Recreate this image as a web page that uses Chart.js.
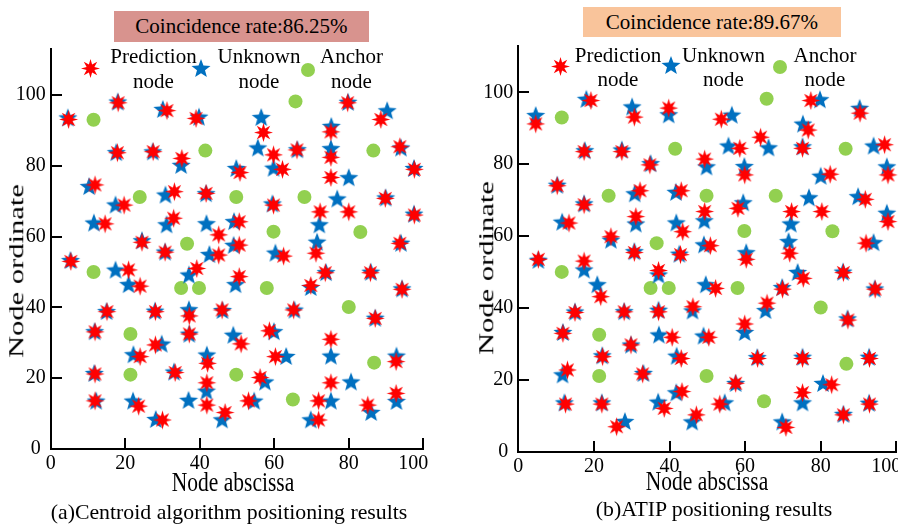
<!DOCTYPE html>
<html><head><meta charset="utf-8">
<script src="https://cdn.jsdelivr.net/npm/chart.js@4.4.0/dist/chart.umd.min.js"></script>
<style>
html,body{margin:0;padding:0;background:#fff;}
body{width:898px;height:526px;overflow:hidden;position:relative;font-family:"Liberation Serif","Times New Roman",serif;color:#000;}
.t{position:absolute;white-space:nowrap;line-height:1;}
.box{position:absolute;display:flex;align-items:center;justify-content:center;font-size:21px;white-space:nowrap;}
canvas{display:block;}
</style></head><body>
<div style="position:absolute;left:0;top:0;width:449px;height:526px"><canvas id="chartA" width="449" height="526" style="width:449px;height:526px"></canvas></div>
<div style="position:absolute;left:469px;top:0;width:469px;height:526px"><canvas id="chartB" width="469" height="526" style="width:469px;height:526px"></canvas></div>
<script>
// ---------------- data ----------------
const xTickValues = [0, 20, 40, 60, 80, 100];
const yTickValues = [0, 20, 40, 60, 80, 100];

const anchorNodes = [[11.5,93],[65.7,98.2],[41.5,84.3],[86.6,84.3],[23.9,71.2],[49.8,71.2],[68.1,71.2],[59.8,61.4],[83.1,61.3],[36.6,58],[11.5,50],[35,45.5],[39.8,45.5],[58,45.5],[80,40.1],[21.4,32.5],[86.8,24.4],[21.4,21],[49.8,21],[65,14]];

const unknownNodes = [[4.6,93.4],[18,97.9],[30.1,95.8],[39.8,93.6],[56.5,93.5],[79.8,97.8],[90.3,95.4],[75.3,91],[75.2,84.7],[80,76.5],[55.6,84.9],[66.2,84.4],[94,84.9],[17.6,83.6],[27.4,83.8],[35,80],[49.8,79.1],[59.8,79.2],[97.5,79.1],[10.3,74],[30.8,71.6],[41.7,72],[76.9,70.5],[72.1,63.2],[89.9,70.8],[97.5,66.2],[17.4,68.8],[11.6,63.7],[31.1,63.2],[41.8,63.5],[49.2,64.1],[59.5,69.1],[24.5,58.7],[30.7,55.5],[42.6,54.8],[49.1,57.4],[60.3,55.2],[71.5,58.3],[94,58],[5.3,53.1],[17.4,50.4],[20.9,46.3],[37.1,49],[49.6,46.3],[69.8,45.5],[73.9,49.7],[85.9,49.8],[94.3,45.1],[87.1,36.8],[15,38.7],[28,38.8],[37.1,39.2],[46.1,39],[65.4,39.1],[11.8,33],[37.2,32.3],[49,32],[59.9,33],[29.8,29.5],[22.2,26.5],[41.9,26.4],[63.2,26],[75.2,26.1],[92.8,26.1],[11.7,21.2],[33.1,21.6],[57.5,18.8],[41.8,16.2],[80.6,18.8],[12.2,13.4],[22.1,13.4],[37,13.6],[46,8.1],[54.6,13.4],[75.2,13.4],[69.8,8.1],[28.2,8.2],[86,10.2],[92.8,13.3]];

const predCentroid = [[4.8,93.1],[18.1,97.8],[31.2,95.6],[39,93.4],[57.1,89.4],[79.7,97.8],[88.6,93.1],[75.2,89.6],[75.2,82.4],[75.2,76.7],[59.8,83.1],[66.1,84.5],[93.7,85.4],[17.9,83.7],[27.5,84],[35.2,82.1],[50.8,78.1],[62.2,79],[97.6,79],[11.9,74.6],[33.2,72.7],[41.7,72.2],[72.3,67],[80,67],[89.8,70.8],[97.6,66.1],[19.7,68.9],[14.6,63.6],[33,65.2],[45.1,60.5],[50.6,64.2],[59.8,68.9],[24.5,58.4],[30.7,55.6],[45.1,54.8],[50.6,57.6],[62.5,54.5],[71.2,55.3],[93.7,58.1],[5.4,53],[20.9,50.6],[24,46],[39.2,51],[50.6,48.7],[69.8,46.2],[73.7,49.8],[85.8,49.8],[94.3,45.1],[87.1,36.9],[15.1,38.8],[28.1,38.8],[37.2,37.6],[46,39.3],[65.2,39.3],[11.9,33.1],[37.2,32.5],[51.1,29.7],[58.7,33.4],[28.1,29.4],[24,26.1],[42.1,24.2],[60.3,26.1],[75.2,31],[92.7,24.7],[11.9,21.2],[33.4,21.6],[56.2,20.2],[41.9,18.7],[75.2,18.7],[11.9,13.6],[23.6,12.1],[41.9,12.4],[46.8,10.3],[53.1,13.6],[71.9,13.6],[71.9,8.2],[30,8.2],[85.1,12.4],[92.7,15.7]];

const predATIP = [[4.6,91.2],[19.2,97.7],[30.7,93.1],[39.8,95.6],[53.7,92.5],[77.4,97.7],[90.4,94.2],[76.7,89.5],[64.1,87.5],[58.6,84.4],[75.2,84.4],[96.9,85.4],[17.4,83.5],[27.4,83.5],[34.8,79.8],[49.3,81.4],[59.9,77],[97.8,77],[82.5,77.2],[10.3,74],[32.2,72.6],[43.1,72.6],[91.8,70.2],[17.4,68.7],[72.3,66.8],[80.3,66.8],[58.1,67.7],[49.3,66.8],[31.1,65.4],[13.4,63.6],[43.5,61.2],[97.8,64],[24.5,59.8],[30.7,55.4],[42.9,54.8],[50.8,57.3],[60.3,53.5],[71.8,55.2],[92,58],[5.3,53.5],[17.4,53],[21.8,43.1],[37.1,50.4],[52.2,45.4],[69.9,45.2],[75.4,48.2],[86,49.8],[94.4,45.2],[65.8,41.3],[87.2,36.6],[15,38.7],[28,38.9],[37.1,38.9],[46.2,40.3],[59.9,35.5],[11.8,32.9],[40.7,31.8],[50.4,31.8],[29.8,29.7],[22.3,26.4],[43.1,25.9],[63.3,25.9],[75.2,25.9],[92.9,25.9],[13,22.7],[32.9,21.6],[57.5,19],[82.9,18.6],[43.3,16.7],[75.2,16.4],[12.5,13.2],[22.1,13.2],[38.6,12],[53.3,13.2],[47.1,10.2],[92.9,13.2],[86,10.2],[26,6.9],[70.8,6.7]];

const seriesNames = ['Prediction\nnode', 'Unknown\nnode', 'Anchor\nnode'];
const panelTitles = ['Coincidence rate:86.25%', 'Coincidence rate:89.67%'];
const captions = ['(a)Centroid algorithm positioning results', '(b)ATIP positioning results'];
const xTitle = 'Node abscissa';
const yTitle = 'Node ordinate';

// ---------------- markers ----------------
const RED = '#ff0000', BLUE = '#0070c0', GREEN = '#92d050';
function makeStar(n, R, r, color) {
  const c = document.createElement('canvas');
  const s = Math.ceil(2 * R + 2);
  c.width = s; c.height = s;
  const g = c.getContext('2d');
  g.translate(s / 2, s / 2);
  g.beginPath();
  for (let i = 0; i < 2 * n; i++) {
    const a = -Math.PI / 2 + i * Math.PI / n;
    const rad = i % 2 === 0 ? R : r;
    const px = rad * Math.cos(a), py = rad * Math.sin(a);
    if (i === 0) g.moveTo(px, py); else g.lineTo(px, py);
  }
  g.closePath();
  g.fillStyle = color; g.fill();
  return c;
}
function makeDot(R, color) {
  const c = document.createElement('canvas');
  const s = Math.ceil(2 * R + 2);
  c.width = s; c.height = s;
  const g = c.getContext('2d');
  g.beginPath(); g.arc(s / 2, s / 2, R, 0, Math.PI * 2);
  g.fillStyle = color; g.fill();
  return c;
}
const redStar = () => makeStar(8, 9.5, 4.2, RED);
const blueStar = () => makeStar(5, 10, 4.2, BLUE);
const greenDot = () => makeDot(7, GREEN);

// ---------------- chart ----------------
const FONT = '"Liberation Serif","Times New Roman",serif';
const toPts = a => a.map(p => ({x: p[0], y: p[1]}));

// inward tick marks, placed through the chart's own scales
const innerTicks = {
  id: 'innerTicks',
  afterDraw(chart) {
    const ctx = chart.ctx;
    const x = chart.scales.x, y = chart.scales.y;
    const L = Math.round(x.getPixelForValue(0)), B = Math.round(y.getPixelForValue(0));
    ctx.save();
    ctx.fillStyle = '#000000';
    xTickValues.forEach(v => { const px = Math.round(x.getPixelForValue(v)); ctx.fillRect(px - 1, B - 11, 2, 11); });
    yTickValues.forEach(v => { const py = Math.round(y.getPixelForValue(v)); ctx.fillRect(L, py - 1, 11, 2); });
    ctx.restore();
  }
};

function makeChart(id, pred, pad, yW) {
  return new Chart(document.getElementById(id), {
    type: 'scatter',
    data: {
      datasets: [
        {label: seriesNames[0], data: toPts(pred), pointStyle: redStar(), pointRadius: 9, order: 0, clip: false},
        {label: seriesNames[1], data: toPts(unknownNodes), pointStyle: blueStar(), pointRadius: 9, order: 1, clip: false},
        {label: seriesNames[2], data: toPts(anchorNodes), pointStyle: 'circle', pointRadius: 7, backgroundColor: GREEN, borderWidth: 0, order: 2, clip: false}
      ]
    },
    options: {
      responsive: false, animation: false, devicePixelRatio: 1, events: [],
      layout: {padding: pad},
      plugins: {legend: {display: false}, tooltip: {enabled: false}, title: {display: false}},
      scales: {
        x: {
          type: 'linear', min: 0, max: 100,
          afterBuildTicks: s => { s.ticks = xTickValues.map(v => ({value: v})); },
          afterFit: s => { s.height = 30; s.paddingLeft = 0; s.paddingRight = 0; },
          grid: {display: false, drawTicks: false},
          border: {display: true, color: '#000000', width: 2},
          ticks: {color: '#000', font: {family: FONT, size: 20}, padding: 3, maxRotation: 0, autoSkip: false,
                  callback: v => v === 100 ? '100\u2007\u2007' : String(v)}
        },
        y: {
          type: 'linear', min: 0, max: 113,
          afterBuildTicks: s => { s.ticks = yTickValues.map(v => ({value: v})); },
          afterFit: s => { s.width = yW; s.paddingTop = 0; s.paddingBottom = 0; },
          grid: {display: false, drawTicks: false},
          border: {display: true, color: '#000000', width: 2},
          ticks: {color: '#000', font: {family: FONT, size: 20}, padding: 5, autoSkip: false,
                  callback: v => v === 0 ? '0\u2008' : String(v)}
        }
      }
    },
    plugins: [innerTicks]
  });
}

makeChart('chartA', predCentroid, {left: 0, right: 25.7, top: 49, bottom: 47}, 50.7);
makeChart('chartB', predATIP, {left: 0, right: 41.7, top: 45.6, bottom: 44.5}, 49.3);

// ---------------- text & legend ----------------
function addText(txt, cx, cy, size, extra) {
  const d = document.createElement('div');
  d.className = 't';
  d.textContent = txt;
  d.style.fontSize = size + 'px';
  d.style.left = cx + 'px'; d.style.top = cy + 'px';
  d.style.transform = 'translate(-50%,-50%)' + (extra ? ' ' + extra : '');
  document.body.appendChild(d);
}
function addBox(txt, l, t, w, h, bg) {
  const d = document.createElement('div');
  d.className = 'box';
  d.textContent = txt;
  Object.assign(d.style, {left: l + 'px', top: t + 'px', width: w + 'px', height: h + 'px', background: bg});
  document.body.appendChild(d);
}
function addMarker(c, cx, cy) {
  c.style.position = 'absolute';
  c.style.left = (cx - c.width / 2) + 'px';
  c.style.top = (cy - c.height / 2) + 'px';
  document.body.appendChild(c);
}
function addLegendLabel(name, cx, cy1, cy2) {
  const [a, b] = name.split('\n');
  addText(a, cx, cy1, 21);
  addText(b, cx, cy2, 21);
}

addBox(panelTitles[0], 114, 11, 255, 31, '#d8938e');
addBox(panelTitles[1], 583, 7, 258, 30, '#f9c49b');

// left legend
addMarker(redStar(), 90, 68);  addLegendLabel(seriesNames[0], 153.5, 55.5, 81.2);
addMarker(blueStar(), 201, 69); addLegendLabel(seriesNames[1], 259, 55.5, 81.2);
addMarker(greenDot(), 308, 70); addLegendLabel(seriesNames[2], 351.5, 55.5, 81.2);
// right legend
addMarker(redStar(), 560, 66);  addLegendLabel(seriesNames[0], 618, 54.6, 78.9);
addMarker(blueStar(), 670.7, 65.7); addLegendLabel(seriesNames[1], 723.5, 54.6, 78.9);
addMarker(greenDot(), 780, 66.7); addLegendLabel(seriesNames[2], 825, 54.6, 78.9);

// axis titles
addText(xTitle, 233, 482.5, 21.5, 'scaleY(1.25)');
addText(xTitle, 707, 481.5, 21.5, 'scaleY(1.25)');
addText(yTitle, 17, 271, 21.5, 'rotate(-90deg) scaleX(1.42)');
addText(yTitle, 487, 268, 21.5, 'rotate(-90deg) scaleX(1.42)');

// captions
addText(captions[0], 229, 512.5, 21.8);
addText(captions[1], 714, 509.5, 21.8);
</script>
</body></html>
